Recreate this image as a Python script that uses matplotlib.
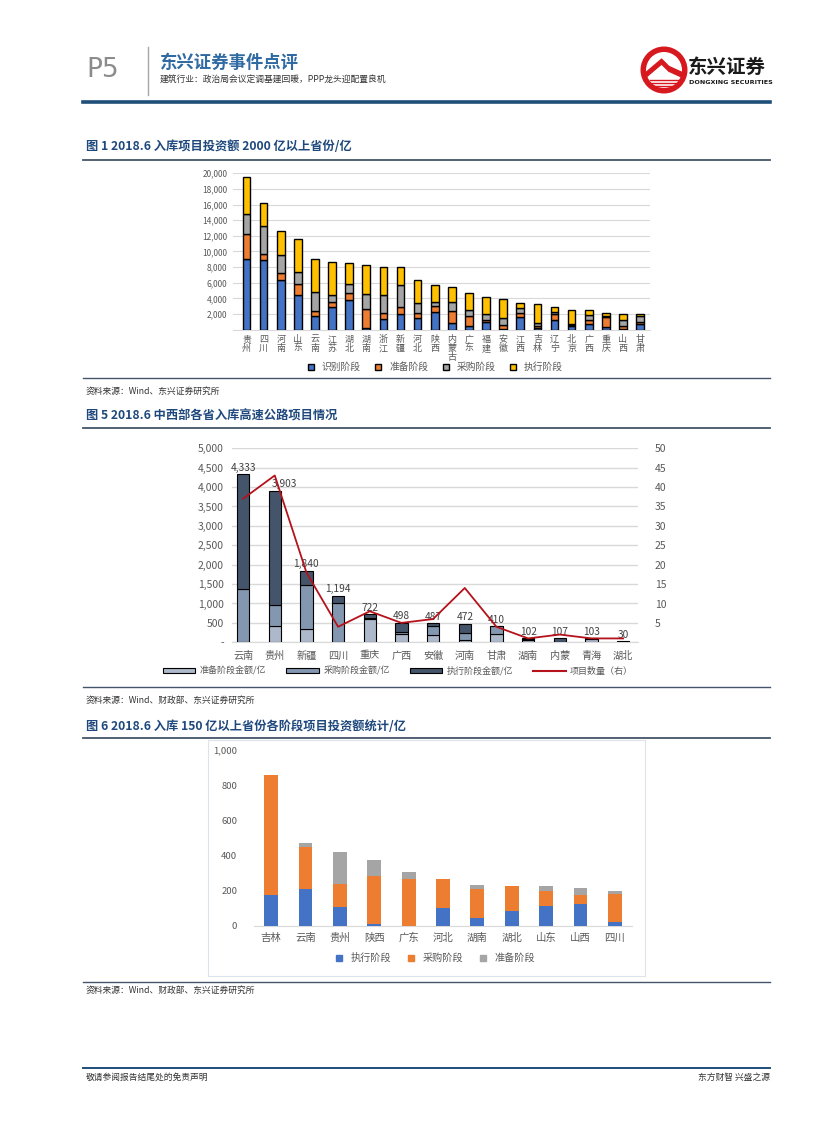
import matplotlib.pyplot as plt
import matplotlib.patches as mpatches
from matplotlib.lines import Line2D
import numpy as np

plt.rcParams['font.family'] = ['Noto Sans CJK SC', 'DejaVu Sans']

# ---- 图1 data (亿) ----
prov1 = ['贵州', '四川', '河南', '山东', '云南', '江苏', '湖北', '湖南', '浙江', '新疆', '河北', '陕西',
         '内蒙古', '广东', '福建', '安徽', '江西', '吉林', '辽宁', '北京', '广西', '重庆', '山西', '甘肃']
shibie = [9100, 8900, 6350, 4450, 1800, 2850, 3800, 200, 1350, 2000, 1450, 2200,
          800, 450, 950, 50, 1600, 250, 1250, 500, 700, 300, 100, 700]
zhunbei = [3200, 800, 900, 1400, 600, 650, 900, 2450, 800, 950, 700, 800,
           1550, 1350, 350, 600, 500, 250, 800, 50, 600, 1300, 350, 300]
caigou = [2500, 3600, 2300, 1500, 2450, 950, 1200, 1900, 2300, 2800, 1250, 600,
          1150, 700, 700, 850, 650, 350, 150, 200, 600, 150, 850, 800]
zhixing = [4700, 2900, 3050, 4250, 4250, 4150, 2600, 3750, 3550, 2250, 3000, 2100,
           1900, 2200, 2150, 2400, 650, 2450, 650, 1800, 650, 400, 650, 200]
legend1 = ['识别阶段', '准备阶段', '采购阶段', '执行阶段']

# ---- 图5 data ----
prov5 = ['云南', '贵州', '新疆', '四川', '重庆', '广西', '安徽', '河南', '甘肃', '湖南', '内蒙', '青海', '湖北']
zb5 = [0, 420, 344, 0, 600, 225, 180, 50, 210, 60, 0, 80, 0]
cg5 = [1370, 540, 1134, 1005, 20, 50, 250, 182, 200, 20, 0, 23, 0]
zx5 = [2963, 2943, 362, 189, 102, 223, 57, 240, 0, 22, 107, 0, 30]
total5 = [4333, 3903, 1840, 1194, 722, 498, 487, 472, 410, 102, 107, 103, 30]
count5 = [37, 43, 18, 4, 8, 5, 6, 14, 4, 1, 2, 1, 1]
legend5 = ['准备阶段金额/亿', '采购阶段金额/亿', '执行阶段金额/亿', '项目数量（右）']

# ---- 图6 data ----
prov6 = ['吉林', '云南', '贵州', '陕西', '广东', '河北', '湖南', '湖北', '山东', '山西', '四川']
zx6 = [175, 207, 108, 11, 0, 102, 46, 83, 114, 125, 23]
cg6 = [683, 239, 129, 274, 266, 164, 165, 145, 85, 51, 159]
zb6 = [0, 23, 182, 89, 39, 0, 20, 0, 29, 40, 17]
legend6 = ['执行阶段', '采购阶段', '准备阶段']

W, H = 827, 1122
fig = plt.figure(figsize=(8.27, 11.22), dpi=100)


def fx(x):
    return x / W


def fy(y):
    return 1 - y / H


def hline(x0, x1, y, color, lw):
    fig.add_artist(Line2D([fx(x0), fx(x1)], [fy(y), fy(y)], color=color, lw=lw))


def ftext(x, y, s, **kw):
    fig.text(fx(x), fy(y), s, **kw)


# ---- header ----
ftext(86, 70, 'P5', fontsize=19, color='#8c8c8c', va='center', family='DejaVu Sans')
fig.add_artist(Line2D([fx(148), fx(148)], [fy(47), fy(95)], color='#a6a6a6', lw=1))
ftext(160, 63, '东兴证券事件点评', fontsize=12.5, fontweight='bold', color='#2f6aa3', va='center')
ftext(160, 80, '建筑行业：政治局会议定调基建回暖，PPP龙头迎配置良机', fontsize=6.3, color='#333333', va='center')

logo = fig.add_axes([fx(640), fy(94), 48 / W, 48 / H])
logo.set_xlim(-1, 1)
logo.set_ylim(-1, 1)
logo.set_aspect('equal')
logo.axis('off')
logo.add_patch(mpatches.Circle((0, 0), 0.95, color='#d7191f'))
logo.add_patch(mpatches.Circle((0, 0), 0.72, color='white'))
logo.add_patch(mpatches.Polygon([(-0.75, -0.1), (-0.1, 0.45), (0.2, 0.15), (0.75, -0.1), (0.75, -0.3),
                                 (0.2, -0.05), (-0.1, 0.25), (-0.75, -0.3)], color='#d7191f'))
for k in range(3):
    logo.plot([-0.6, 0.6], [-0.42 - k * 0.12, -0.42 - k * 0.12], color='#d7191f', lw=1)
ftext(688, 67, '东兴证券', fontsize=14, fontweight='bold', color='#1a1a1a', va='center')
ftext(689, 82, 'DONGXING SECURITIES', fontsize=4.6, fontweight='bold', color='#1a1a1a', va='center',
      family='DejaVu Sans')
hline(83, 770, 102, '#1f4e79', 2.6)

# ---- section titles / sources ----
title_c = '#1f497d'
ftext(86, 147, '图 1 2018.6 入库项目投资额 2000 亿以上省份/亿', fontsize=8.8, fontweight='bold',
      color=title_c, va='center')
hline(83, 770, 160, '#44546a', 1.3)
hline(83, 770, 378, '#44546a', 1.0)
ftext(86, 391, '资料来源：Wind、东兴证券研究所', fontsize=6.3, color='#333333', va='center')

ftext(86, 416, '图 5 2018.6 中西部各省入库高速公路项目情况', fontsize=8.8, fontweight='bold',
      color=title_c, va='center')
hline(83, 770, 428, '#44546a', 1.3)
hline(83, 770, 687, '#44546a', 1.0)
ftext(86, 700, '资料来源：Wind、财政部、东兴证券研究所', fontsize=6.3, color='#333333', va='center')

ftext(86, 727, '图 6 2018.6 入库 150 亿以上省份各阶段项目投资额统计/亿', fontsize=8.8, fontweight='bold',
      color=title_c, va='center')
hline(83, 770, 738, '#44546a', 1.3)
hline(83, 770, 982, '#44546a', 1.0)
ftext(86, 990, '资料来源：Wind、财政部、东兴证券研究所', fontsize=6.3, color='#333333', va='center')

# ---- footer ----
hline(83, 770, 1068, '#1f4e79', 1.4)
ftext(86, 1077, '敬请参阅报告结尾处的免责声明', fontsize=6.3, color='#333333', va='center')
ftext(770, 1077, '东方财智 兴盛之源', fontsize=6.3, color='#333333', va='center', ha='right')

# ---- 图1 chart ----
ax1 = fig.add_axes([fx(233), fy(329.7), (650 - 233) / W, (329.7 - 173.3) / H])
x1 = np.arange(len(prov1))
c1 = ['#4472c4', '#ed7d31', '#a5a5a5', '#ffc000']
bottom = np.zeros(len(prov1))
for vals, col, lab in zip([shibie, zhunbei, caigou, zhixing], c1, legend1):
    ax1.bar(x1, vals, 0.45, bottom=bottom, color=col, edgecolor='black', linewidth=1.0, label=lab, zorder=3)
    bottom += np.array(vals)
ax1.set_xlim(-0.79, 23.58)
ax1.set_ylim(0, 20000)
ax1.set_yticks(np.arange(2000, 20001, 2000))
ax1.set_yticklabels([f'{v:,}' for v in range(2000, 20001, 2000)], fontsize=6, color='#595959')
ax1.set_xticks(x1)
ax1.set_xticklabels(['\n'.join(p) for p in prov1], fontsize=6.5, color='#595959', linespacing=1.0)
ax1.tick_params(length=0, pad=4)
ax1.grid(axis='y', color='#d9d9d9', lw=0.8, zorder=0)
for s in ['top', 'right', 'left']:
    ax1.spines[s].set_visible(False)
ax1.spines['bottom'].set_color('#d9d9d9')
h1 = [Line2D([], [], marker='s', ls='', markersize=5, markerfacecolor=c, markeredgecolor='black',
             markeredgewidth=1) for c in c1]
fig.legend(h1, legend1, loc='center', bbox_to_anchor=(fx(432), fy(367)), ncol=4, frameon=False,
           fontsize=7, handletextpad=0.1, columnspacing=0.8, labelcolor='#595959')

# ---- 图5 chart ----
ax2 = fig.add_axes([fx(232), fy(642.3), (638 - 232) / W, 194 / H])
x2 = np.arange(len(prov5))
c2 = ['#adb9ca', '#8497b0', '#44546a']
bottom = np.zeros(len(prov5))
for vals, col in zip([zb5, cg5, zx5], c2):
    ax2.bar(x2, vals, 0.39, bottom=bottom, color=col, edgecolor='black', linewidth=0.8, zorder=3)
    bottom += np.array(vals)
for xi, t in zip(x2, total5):
    dx = 0.3 if t == 3903 else 0
    ax2.text(xi + dx, t + 40, f'{t:,}', ha='center', va='bottom', fontsize=7.3, color='#404040', zorder=5)
ax2.set_xlim(-0.35, 12.47)
ax2.set_ylim(0, 5000)
ax2.set_yticks(np.arange(0, 5001, 500))
ax2.set_yticklabels(['-'] + [f'{v:,}' for v in range(500, 5001, 500)], fontsize=7.5, color='#595959')
ax2.set_xticks(x2)
ax2.set_xticklabels(prov5, fontsize=7.3, color='#595959')
ax2.tick_params(length=0, pad=6)
ax2.grid(axis='y', color='#d9d9d9', lw=1.0, zorder=0)
for s in ['top', 'right', 'left']:
    ax2.spines[s].set_visible(False)
ax2.spines['bottom'].set_color('#d9d9d9')
ax2r = ax2.twinx()
ax2r.plot(x2, count5, color='#b5121b', lw=1.3, zorder=6)
ax2r.set_ylim(0, 50)
ax2r.set_yticks(np.arange(0, 51, 5))
ax2r.set_yticklabels([''] + [str(v) for v in range(5, 51, 5)], fontsize=7.5, color='#595959')
ax2r.tick_params(length=0, pad=12)
for s in ax2r.spines.values():
    s.set_visible(False)
h2 = [mpatches.Patch(facecolor=c, edgecolor='black', linewidth=0.8) for c in c2]
h2.append(Line2D([], [], color='#b5121b', lw=1.5))
fig.legend(h2, legend5, loc='center', bbox_to_anchor=(fx(398), fy(671)), ncol=4, frameon=False,
           fontsize=6.5, handlelength=3.6, handleheight=0.5, handletextpad=0.5, columnspacing=2.2,
           labelcolor='#595959')

# ---- 图6 chart ----
fig.add_artist(mpatches.Rectangle((fx(208), fy(976)), (645 - 208) / W, (976 - 740) / H,
                                  transform=fig.transFigure, fill=False, edgecolor='#dde3ea', lw=0.8))
ax3 = fig.add_axes([fx(254), fy(925.7), (632 - 254) / W, 175.7 / H])
x3 = np.arange(len(prov6))
c3 = ['#4472c4', '#ed7d31', '#a5a5a5']
bottom = np.zeros(len(prov6))
for vals, col in zip([zx6, cg6, zb6], c3):
    ax3.bar(x3, vals, 0.4, bottom=bottom, color=col, zorder=3)
    bottom += np.array(vals)
ax3.set_xlim(-0.5, 10.5)
ax3.set_ylim(0, 1000)
ax3.set_yticks(np.arange(0, 1001, 200))
ax3.set_yticklabels([f'{v:,}' for v in range(0, 1001, 200)], fontsize=6.8, color='#595959')
ax3.set_xticks(x3)
ax3.set_xticklabels(prov6, fontsize=7.5, color='#595959')
ax3.tick_params(axis='y', length=0, pad=12)
ax3.tick_params(axis='x', length=0, pad=5)
for s in ['top', 'right', 'left']:
    ax3.spines[s].set_visible(False)
ax3.spines['bottom'].set_color('#d9d9d9')
h3 = [Line2D([], [], marker='s', ls='', markersize=4.5, color=c) for c in c3]
fig.legend(h3, legend6, loc='center', bbox_to_anchor=(fx(432), fy(958)), ncol=3, frameon=False,
           fontsize=7.3, handletextpad=0.1, columnspacing=1.0, labelcolor='#595959')

fig.savefig('out.png', dpi=100)
